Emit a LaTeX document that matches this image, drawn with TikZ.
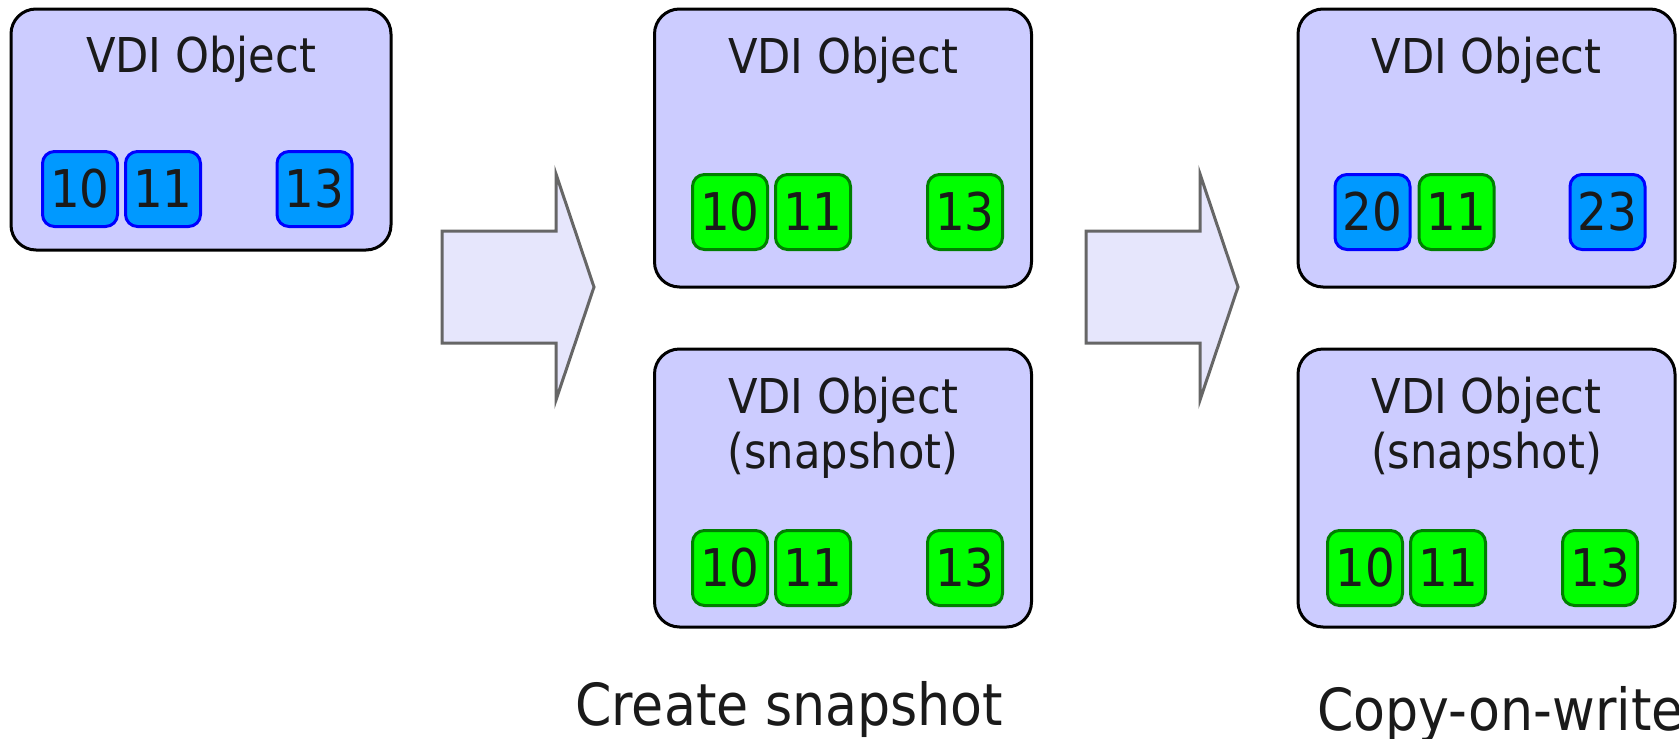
\documentclass[tikz,border=0pt]{standalone}
\usepackage{fontspec}
\setmainfont{DejaVu Sans}[FakeStretch=0.9]
\usetikzlibrary{positioning}
\definecolor{boxfill}{HTML}{CCCCFF}
\definecolor{bluefill}{HTML}{0099FF}
\definecolor{blueline}{HTML}{0000FF}
\definecolor{greenfill}{HTML}{00FF00}
\definecolor{greenline}{HTML}{007F00}
\definecolor{arrowfill}{HTML}{E6E6FC}
\definecolor{arrowline}{HTML}{666666}
\definecolor{txt}{HTML}{1A1A1A}
\tikzset{
  vdibox/.style={draw=black, fill=boxfill, line width=3pt, rounded corners=25pt,
    rectangle, minimum width=377pt, minimum height=278pt, inner sep=0pt},
  blk/.style={rectangle, rounded corners=12pt, line width=3pt, minimum width=75pt,
    minimum height=75pt, inner sep=0pt, font=\fontsize{52}{60}\selectfont, text=txt},
  oldblk/.style={blk, draw=blueline, fill=bluefill},
  newblk/.style={blk, draw=greenline, fill=greenfill},
  title/.style={anchor=base, font=\fontsize{48}{56}\selectfont, text=txt, inner sep=0pt},
  caption/.style={anchor=base west, font=\fontsize{58}{66}\selectfont, text=txt, inner sep=0pt},
  bigarrow/.style={draw=arrowline, fill=arrowfill, line width=3pt, line join=miter}
}
\begin{document}
\begin{tikzpicture}[x=1pt,y=-1pt]
\useasboundingbox (0,0) rectangle (1679,739);
% left box
\node[vdibox, minimum width=380pt, minimum height=241pt] (v1) at (201,129.5) {};
\node[title] (t1) at (201,72) {VDI Object};
\node[oldblk] (a10) at (80,189) {10};
\node[oldblk] (a11) at (163,189) {11};
\node[oldblk] (a13) at (314.5,189) {13};
% middle top
\node[vdibox] (v2) at (843,148) {};
\node[title] (t2) at (843,73) {VDI Object};
\node[newblk] (b10) at (730,212) {10};
\node[newblk] (b11) at (813,212) {11};
\node[newblk] (b13) at (965,212) {13};
% middle bottom
\node[vdibox] (v3) at (843,488) {};
\node[title] (t3) at (843,413) {VDI Object};
\node[title] (t3b) at (843,468) {(snapshot)};
\node[newblk] (c10) at (730,568) {10};
\node[newblk] (c11) at (813,568) {11};
\node[newblk] (c13) at (965,568) {13};
% right top
\node[vdibox] (v4) at (1486.5,148) {};
\node[title] (t4) at (1486.5,73) {VDI Object};
\node[oldblk] (d20) at (1372.5,212) {20};
\node[newblk] (d11) at (1456.5,212) {11};
\node[oldblk] (d23) at (1607.5,212) {23};
% right bottom
\node[vdibox] (v5) at (1486.5,488) {};
\node[title] (t5) at (1486.5,413) {VDI Object};
\node[title] (t5b) at (1486.5,468) {(snapshot)};
\node[newblk] (e10) at (1365,568) {10};
\node[newblk] (e11) at (1448,568) {11};
\node[newblk] (e13) at (1600,568) {13};
% arrows
\draw[bigarrow] (442,231) -- (556,231) -- (556,174) -- (594,287) -- (556,400) -- (556,343) -- (442,343) -- cycle;
\draw[bigarrow] (1086,231) -- (1200,231) -- (1200,174) -- (1238,287) -- (1200,400) -- (1200,343) -- (1086,343) -- cycle;
% captions
\node[caption] (cap1) at (575,725) {Create snapshot};
\node[caption] (cap2) at (1317,730) {Copy-on-write};
\end{tikzpicture}
\end{document}
